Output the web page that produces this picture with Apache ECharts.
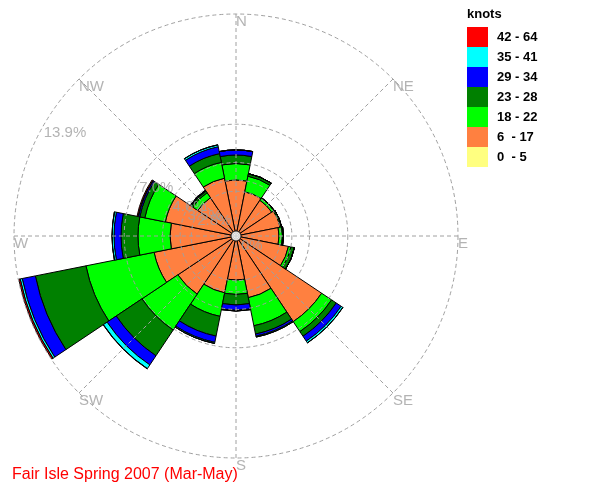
<!DOCTYPE html>
<html>
<head>
<meta charset="utf-8">
<script src="https://cdn.jsdelivr.net/npm/echarts@6/dist/echarts.min.js"></script>
<style>html,body{margin:0;padding:0;background:#fff}#c{width:608px;height:496px}</style>
</head>
<body>
<div id="c"></div>
<script>
// Directions (16 sectors, clockwise from North)
const directions = ['N','NNE','NE','ENE','E','ESE','SE','SSE','S','SSW','SW','WSW','W','WNW','NW','NNW'];
// Frequency (%) per speed class (knots), per direction
const speed0_5   = [0,0,0,0,0,0,0,0,0,0,0,0,0,0,0,0];
const speed6_17  = [3.51,2.82,2.69,2.82,2.69,3.35,6.45,3.94,2.76,3.63,4.38,5.23,4.13,4.51,2.88,3.69];
const speed18_22 = [1.03,1.00,0.16,0.09,0.22,0.16,0.75,1.79,0.90,1.50,2.70,4.35,2.01,1.31,0.38,1.01];
const speed23_28 = [0.53,0.16,0.03,0.00,0.06,0.22,0.35,0.53,0.66,1.26,1.94,3.23,1.06,0.32,0.12,0.56];
const speed29_34 = [0.32,0.00,0.00,0.00,0.00,0.00,0.37,0.13,0.34,0.40,0.69,0.84,0.44,0.09,0.06,0.44];
const speed35_41 = [0.00,0.00,0.00,0.00,0.00,0.00,0.13,0.06,0.04,0.07,0.28,0.13,0.12,0.03,0.00,0.12];
const speed42_64 = [0.00,0.00,0.00,0.00,0.00,0.00,0.00,0.00,0.00,0.00,0.02,0.09,0.00,0.06,0.00,0.00];
// Speed class names and colours
const classNames = ['0  - 5','6  - 17','18 - 22','23 - 28','29 - 34','35 - 41','42 - 64'];
const classColors = ['#FFFF80','#FF8040','#00FF00','#008000','#0000FF','#00FFFF','#FF0000'];
// Ring values (%) and compass labels
const ringValues = [2.8, 3.5, 4.6, 7.0, 13.9];
const ringLabelValues = [0, 2.8, 3.5, 4.6, 7.0, 13.9];
const compassLabels = ['N','NE','E','SE','S','SW','W','NW'];
const maxPct = 13.9;
const ringLabelAngle = 300;
const titleText = 'Fair Isle Spring 2007 (Mar-May)';

const classData = [speed0_5, speed6_17, speed18_22, speed23_28, speed29_34, speed35_41, speed42_64];
const FONT = '"Liberation Sans", Arial, sans-serif';
const CENTER = [236, 236];
const R = 222;
const GRAY = '#A0A0A0';

const barSeries = classNames.map((n, i) => ({
  name: n,
  type: 'bar',
  coordinateSystem: 'polar',
  polarIndex: 0,
  stack: 'wind',
  barCategoryGap: '0%',
  data: classData[i],
  itemStyle: { color: classColors[i], borderColor: '#000', borderWidth: 1 },
  silent: true,
  z: 2
}));

const chart = echarts.init(document.getElementById('c'), null, { renderer: 'canvas' });
chart.setOption({
  animation: false,
  backgroundColor: '#fff',
  title: [
    { text: titleText, left: 12, top: 467, padding: 0,
      textStyle: { color: '#FF0000', fontSize: 16, fontWeight: 'normal', fontFamily: FONT } },
    { text: 'knots', left: 467, top: 8, padding: 0,
      textStyle: { color: '#000', fontSize: 13, fontWeight: 'bold', fontFamily: FONT } }
  ],
  legend: {
    data: classNames.slice().reverse(),
    orient: 'vertical', left: 467, top: 27, padding: 0,
    itemWidth: 21, itemHeight: 20, itemGap: 0, icon: 'rect',
    selectedMode: false,
    itemStyle: { borderWidth: 0 },
    textStyle: { fontSize: 13, fontWeight: 'bold', color: '#000', fontFamily: FONT, padding: [0,0,0,4] }
  },
  polar: [
    { center: CENTER, radius: R },
    { center: CENTER, radius: R }
  ],
  angleAxis: [
    { polarIndex: 0, type: 'category', data: directions, startAngle: 90 + 180 / directions.length,
      clockwise: true, boundaryGap: true, show: false },
    { polarIndex: 1, type: 'value', min: 0, max: 360, interval: 45, startAngle: 90, clockwise: true,
      z: 5,
      axisLine: { show: false }, axisTick: { show: false }, axisLabel: { show: false },
      splitLine: { show: true, lineStyle: { color: GRAY, type: [4, 3], width: 1 } } }
  ],
  radiusAxis: [
    { polarIndex: 0, type: 'value', min: 0, max: maxPct, show: false },
    { polarIndex: 1, type: 'value', min: 0, max: maxPct, z: 5,
      axisLine: { show: false }, axisLabel: { show: false },
      axisTick: { show: false, customValues: ringValues },
      splitLine: { show: true, lineStyle: { color: GRAY, type: [4, 3], width: 1 } } }
  ],
  series: barSeries.concat([
    {
      type: 'scatter', coordinateSystem: 'polar', polarIndex: 1, silent: true, z: 10,
      symbolSize: 10,
      itemStyle: { color: '#fff', borderColor: '#000', borderWidth: 1 },
      data: [[0, 0]]
    },
    {
      type: 'scatter', coordinateSystem: 'polar', polarIndex: 1, silent: true, z: 11,
      symbolSize: 0,
      data: ringLabelValues.map(v => ({ value: [v, ringLabelAngle],
        label: v === 0 ? { offset: [5, 2] } : {} })),
      label: { show: true, position: [0, 0], align: 'left', verticalAlign: 'top',
        color: GRAY, fontSize: 15, fontFamily: FONT,
        formatter: p => (p.value[0] === 0 ? '0' : p.value[0].toFixed(1)) + '%' }
    },
    {
      type: 'scatter', coordinateSystem: 'polar', polarIndex: 1, silent: true, z: 11,
      symbolSize: 0,
      data: compassLabels.map((d, i) => ({ name: d, value: [maxPct, i * 360 / compassLabels.length] })),
      label: { show: true, position: [0, 0], align: 'left', verticalAlign: 'top',
        color: GRAY, fontSize: 15, fontFamily: FONT, formatter: p => p.name }
    }
  ])
});
</script>
</body>
</html>
